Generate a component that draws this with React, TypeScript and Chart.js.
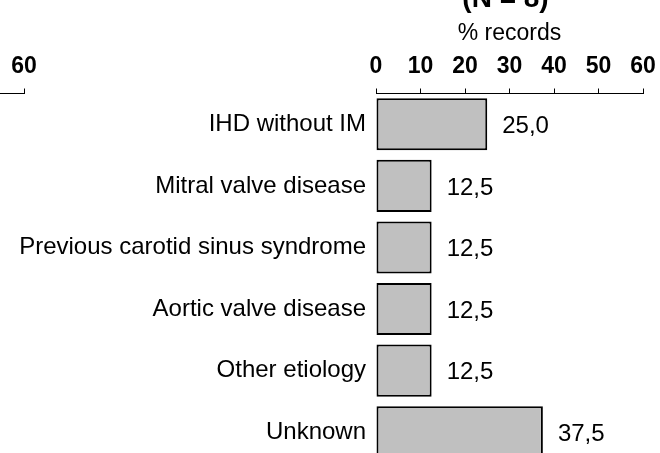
import React, { useEffect, useRef } from "react";
import { Chart, registerables } from "chart.js";

Chart.register(...registerables);

const categories = [
  "IHD without IM",
  "Mitral valve disease",
  "Previous carotid sinus syndrome",
  "Aortic valve disease",
  "Other etiology",
  "Unknown",
];
const percentRecords = [25.0, 12.5, 12.5, 12.5, 12.5, 37.5];
const panelTitle = "(N = 8)";
const axisTitle = "% records";
const xMin = 0;
const xMax = 60;
const xStep = 10;

const FONT = "'Liberation Sans', Arial, Helvetica, sans-serif";
const CW = 664;
const CH = 513;

function makeConfig(labels: string[], values: number[], title: string | null): any {
  const valueLabels = {
    id: "valueLabels",
    afterDatasetsDraw(chart: any) {
      const ctx = chart.ctx;
      ctx.save();
      ctx.font = `24px ${FONT}`;
      ctx.fillStyle = "#000";
      ctx.textAlign = "left";
      ctx.textBaseline = "middle";
      chart.data.datasets.forEach((ds: any, di: number) => {
        const meta = chart.getDatasetMeta(di);
        meta.data.forEach((bar: any, i: number) => {
          const v = ds.data[i];
          ctx.fillText(v.toFixed(1).replace(".", ","), bar.x + 15, bar.y + 2);
        });
      });
      ctx.restore();
    },
  };
  const titlePlugin = {
    id: "panelTitle",
    afterDraw(chart: any) {
      if (!title) return;
      const ctx = chart.ctx;
      const area = chart.chartArea;
      ctx.save();
      ctx.font = `bold 28px ${FONT}`;
      ctx.fillStyle = "#000";
      ctx.textAlign = "center";
      ctx.textBaseline = "alphabetic";
      ctx.fillText(title, (area.left + area.right) / 2 - 4, 27);
      ctx.restore();
    },
  };
  return {
    type: "bar",
    data: {
      labels,
      datasets: values.length
        ? [
            {
              data: values,
              backgroundColor: "#c0c0c0",
              borderColor: "#000",
              borderWidth: 2,
              borderSkipped: false,
              barPercentage: 0.847,
              categoryPercentage: 1,
            },
          ]
        : [],
    },
    options: {
      indexAxis: "y",
      responsive: false,
      animation: false,
      layout: { padding: { top: 33.2, right: 21, bottom: 30, left: 0 } },
      plugins: {
        legend: { display: false },
        tooltip: { enabled: false },
        title: { display: false },
      },
      scales: {
        x: {
          type: "linear",
          position: "top",
          min: xMin,
          max: xMax,
          afterFit(scale: any) {
            scale.height = 80.3;
          },
          ticks: {
            stepSize: xStep,
            color: "#000",
            padding: 8.2,
            maxRotation: 0,
            font: { family: FONT, size: 23, weight: "bold" },
          },
          grid: {
            drawOnChartArea: false,
            drawTicks: true,
            tickLength: 5,
            color: "#000",
            lineWidth: 1,
          },
          border: { display: true, color: "#000", width: 1 },
          title: {
            display: true,
            text: axisTitle,
            color: "#000",
            padding: { top: 7, bottom: 0 },
            font: { family: FONT, size: 23 },
          },
        },
        y: {
          type: "category",
          afterFit(scale: any) {
            scale.width = 376;
          },
          ticks: {
            color: "#000",
            padding: 10,
            font: { family: FONT, size: 24 },
          },
          grid: { display: false, drawTicks: false },
          border: { display: false },
        },
      },
    },
    plugins: [valueLabels, titlePlugin],
  };
}

export default function App() {
  const mainRef = useRef<HTMLCanvasElement>(null);
  const leftRef = useRef<HTMLCanvasElement>(null);

  useEffect(() => {
    const charts: Chart[] = [];
    if (leftRef.current) {
      charts.push(new Chart(leftRef.current, makeConfig([], [], null)));
    }
    if (mainRef.current) {
      charts.push(new Chart(mainRef.current, makeConfig(categories, percentRecords, panelTitle)));
    }
    return () => charts.forEach((c) => c.destroy());
  }, []);

  return (
    <div
      style={{
        position: "fixed",
        left: 0,
        top: 0,
        width: 660,
        height: 453,
        overflow: "hidden",
        background: "#fff",
      }}
    >
      <canvas
        ref={leftRef}
        width={CW}
        height={CH}
        style={{ position: "absolute", left: -619, top: -20, width: CW, height: CH }}
      />
      <canvas
        ref={mainRef}
        width={CW}
        height={CH}
        style={{ position: "absolute", left: 0, top: -20, width: CW, height: CH }}
      />
    </div>
  );
}
